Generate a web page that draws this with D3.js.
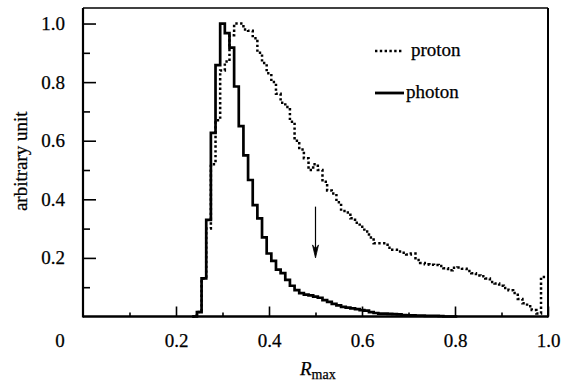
<!DOCTYPE html>
<html>
<head>
<meta charset="utf-8">
<script src="https://cdn.jsdelivr.net/npm/d3@7/dist/d3.min.js"></script>
<style>
  html, body { margin: 0; padding: 0; background: #fff; }
  svg { display: block; }
  text { font-family: "Liberation Serif", "Times New Roman", serif; fill: #000; }
</style>
</head>
<body>
<svg id="chart" width="564" height="382"></svg>
<script>
// ---- data (histograms, bin width 0.01, first bin centred at 0.24) ----
const binWidth = 0.01;
const firstBinLeft = 0.235;
const protonValues = [
  0, 0.015, 0.13, 0.30, 0.52, 0.67, 0.84, 0.87, 0.96, 1.0,
  1.0, 0.98, 0.975, 0.95, 0.90, 0.865, 0.83, 0.80, 0.76, 0.73,
  0.715, 0.665, 0.60, 0.57, 0.54, 0.50, 0.52, 0.50, 0.46, 0.43,
  0.42, 0.39, 0.36, 0.355, 0.335, 0.32, 0.306, 0.29, 0.27, 0.25,
  0.25, 0.25, 0.235, 0.228, 0.222, 0.218, 0.212, 0.215, 0.193, 0.183,
  0.178, 0.177, 0.176, 0.172, 0.165, 0.158, 0.166, 0.167, 0.163, 0.155,
  0.148, 0.14, 0.137, 0.13, 0.118, 0.113, 0.105, 0.097, 0.09, 0.08,
  0.06, 0.045, 0.035, 0.022, 0.01, 0.135
];
const photonValues = [
  0, 0.015, 0.13, 0.33, 0.627, 0.858, 1.0, 0.967, 0.918, 0.785,
  0.65, 0.55, 0.466, 0.38, 0.335, 0.27, 0.215, 0.19, 0.16, 0.148,
  0.125, 0.105, 0.09, 0.08, 0.075, 0.072, 0.068, 0.064, 0.056, 0.05,
  0.043, 0.038, 0.033, 0.03, 0.028, 0.025, 0.022, 0.02, 0.015, 0.012,
  0.01, 0.01, 0.009, 0.008, 0.007, 0.005, 0.004, 0.004, 0.003, 0.003,
  0.002, 0.002, 0.002, 0.001, 0, 0, 0
];
const xMajorTicks = [0.2, 0.4, 0.6, 0.8, 1.0];
const xMinorTicks = [0.1, 0.3, 0.5, 0.7, 0.9];
const yMajorTicks = [0.2, 0.4, 0.6, 0.8, 1.0];
const yMinorTicks = [0.1, 0.3, 0.5, 0.7, 0.9];
const originLabel = "0";
const legendItems = [
  { name: "proton", dashed: true },
  { name: "photon", dashed: false }
];
const arrowAnno = { x: 0.5, yFrom: 0.375, yTo: 0.2 };
const yTitle = "arbitrary unit";

// ---- layout ----
const SERIF = '"Liberation Serif", "Times New Roman", serif';
const svg = d3.select("#chart");
const L = 83, R = 548, T = 8, B = 316.5;
const x = d3.scaleLinear().domain([0, 1]).range([L, R]);
const y = d3.scaleLinear().domain([0, 1.053]).range([B, T]);
const FS = 19;

function histPoints(vals) {
  const pts = vals.map((v, i) => [firstBinLeft + i * binWidth, v]);
  pts.push([firstBinLeft + vals.length * binWidth, vals[vals.length - 1]]);
  return pts;
}
const stepLine = d3.line()
  .x(d => x(Math.min(d[0], 1)))
  .y(d => y(d[1]))
  .curve(d3.curveStepAfter);

// proton (dotted)
svg.append("path")
  .datum(histPoints(protonValues))
  .attr("d", stepLine)
  .attr("fill", "none")
  .attr("stroke", "#000")
  .attr("stroke-width", 2.5)
  .attr("stroke-dasharray", "2.4,2.4");

// photon (solid)
svg.append("path")
  .datum(histPoints(photonValues))
  .attr("d", stepLine)
  .attr("fill", "none")
  .attr("stroke", "#000")
  .attr("stroke-width", 2.7)
  .attr("stroke-linejoin", "miter");

// ---- axes ----
const xAxisMajor = d3.axisBottom(x).tickValues(xMajorTicks)
  .tickSizeInner(-10).tickSizeOuter(0).tickPadding(17)
  .tickFormat(d3.format(".1f"));
const xAxisMinor = d3.axisBottom(x).tickValues(xMinorTicks)
  .tickSizeInner(-4).tickSizeOuter(0).tickFormat("");
const yAxisMajor = d3.axisLeft(y).tickValues(yMajorTicks)
  .tickSizeInner(-13).tickSizeOuter(0).tickPadding(18)
  .tickFormat(d3.format(".1f"));
const yAxisMinor = d3.axisLeft(y).tickValues(yMinorTicks)
  .tickSizeInner(-7).tickSizeOuter(0).tickFormat("");

function styleAxis(g) {
  g.attr("font-family", SERIF).attr("font-size", FS);
  g.select(".domain").remove();
  g.selectAll("line").attr("stroke", "#000").attr("stroke-width", 1.6);
  g.selectAll("text").attr("font-size", FS).attr("font-family", SERIF)
    .attr("stroke", "#000").attr("stroke-width", 0.25);
}
svg.append("g").attr("transform", `translate(0,${B})`).call(xAxisMajor).call(styleAxis);
svg.append("g").attr("transform", `translate(0,${B})`).call(xAxisMinor).call(styleAxis);
svg.append("g").attr("transform", `translate(${L},0)`).call(yAxisMajor).call(styleAxis);
svg.append("g").attr("transform", `translate(${L},0)`).call(yAxisMinor).call(styleAxis);

// frame
svg.append("line").attr("x1", L).attr("x2", R).attr("y1", B).attr("y2", B)
  .attr("stroke", "#000").attr("stroke-width", 2.6);
svg.append("line").attr("x1", L).attr("x2", L).attr("y1", T).attr("y2", B + 1)
  .attr("stroke", "#000").attr("stroke-width", 2.2);
svg.append("line").attr("x1", L).attr("x2", R).attr("y1", T).attr("y2", T)
  .attr("stroke", "#000").attr("stroke-width", 1.6);
svg.append("line").attr("x1", R).attr("x2", R).attr("y1", T).attr("y2", B + 1)
  .attr("stroke", "#000").attr("stroke-width", 2);

const textStroke = sel => sel.attr("stroke", "#000").attr("stroke-width", 0.25);

// origin label
svg.append("text").attr("x", x(0) - 23).attr("y", B + 30)
  .attr("text-anchor", "middle").attr("font-size", FS).text(originLabel).call(textStroke);

// axis titles
const xt = svg.append("text").attr("x", 300).attr("y", 375).attr("font-size", FS).call(textStroke);
xt.append("tspan").attr("font-style", "italic").text("R");
xt.append("tspan").attr("font-size", 14).attr("dy", 4).text("max");

svg.append("text")
  .attr("transform", `translate(27,${(T + B) / 2 - 1}) rotate(-90)`)
  .attr("text-anchor", "middle").attr("font-size", FS).text(yTitle).call(textStroke);

// legend
const lg = svg.append("g");
legendItems.forEach((d, i) => {
  const yy = 51 + i * 42;
  lg.append("line").attr("x1", 375).attr("x2", d.dashed ? 403 : 404)
    .attr("y1", yy).attr("y2", yy)
    .attr("stroke", "#000")
    .attr("stroke-width", d.dashed ? 2.5 : 2.8)
    .attr("stroke-dasharray", d.dashed ? "2.4,2.4" : null);
  lg.append("text").attr("x", d.dashed ? 411 : 406).attr("y", yy + 4.5)
    .attr("font-size", FS).text(d.name).call(textStroke);
});

// arrow annotation
const ax = x(arrowAnno.x), ay0 = y(arrowAnno.yFrom), ay1 = y(arrowAnno.yTo);
svg.append("line").attr("x1", ax).attr("x2", ax).attr("y1", ay0).attr("y2", ay1 - 6)
  .attr("stroke", "#000").attr("stroke-width", 1.2);
svg.append("path")
  .attr("d", `M${ax - 3},${ay1 - 13} L${ax},${ay1} L${ax + 3},${ay1 - 13} L${ax},${ay1 - 9} Z`)
  .attr("fill", "#000").attr("stroke", "#000").attr("stroke-width", 0.8);
</script>
</body>
</html>
